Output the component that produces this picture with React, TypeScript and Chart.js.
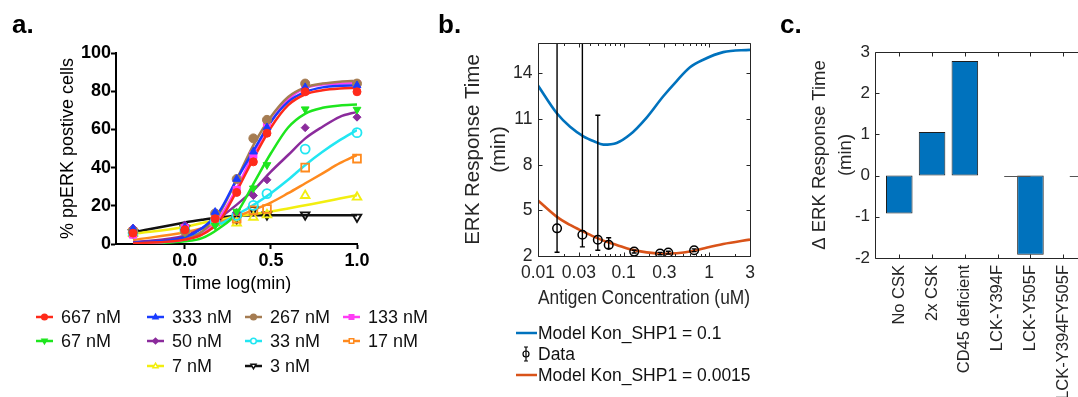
import React, { useEffect, useRef } from 'react';
import { Chart, registerables } from 'chart.js';

Chart.register(...registerables);

const FONT = "'Liberation Sans', Arial, Helvetica, sans-serif";
const AXIS_GRAY = '#262626';

// ---------------- Panel a data ----------------
const timeLog = [-0.301, 0, 0.176, 0.301, 0.398, 0.477, 0.699, 1.0];
const fitTimeLog = [-0.301, 0, 0.1, 0.2, 0.3, 0.4, 0.5, 0.6, 0.7, 0.8, 0.9, 1.0];
const concLabels = ['667 nM', '333 nM', '267 nM', '133 nM', '67 nM', '50 nM', '33 nM', '17 nM', '7 nM', '3 nM'];

const pts667 = [5.7, 7.5, 13.2, 27, 43, 58, 79.7, 79.7];
const pts333 = [8, 8.7, 16.7, 34, 48.3, 61, 82, 83];
const pts267 = [6.6, 6.6, 16, 34, 55.3, 65, 84, 84];
const pts133 = [4.9, 8.3, 13.6, 28.3, 46.6, 63.5, 83.5, 83.6];
const pts67 = [6.6, 6, 9.7, 17, 29.2, 41.4, 70.6, 70.4];
const pts50 = [8.3, 10, 13, 16.5, 25.4, 33.6, 60.9, 66.4];
const pts33 = [5.7, 7.5, 11.8, 15, 20.2, 26.4, 49.7, 58.3];
const pts17 = [6, 7.8, 11.8, 13.2, 17.6, 18.3, 40, 44.7];
const pts7 = [5.7, 7.5, 11.3, 11, 14, 15.3, 25.4, 24.5];
const pts3 = [6, 8, 11.3, 13.2, 18, 15.3, 15.3, 14.1];

const fit667 = [0.3, 2.3, 4.9, 11.8, 27.5, 45, 61, 72.7, 78.4, 80.5, 81.4, 81.7];
const fit333 = [0.5, 3.6, 8.3, 17, 33.6, 49, 64, 74.4, 79.6, 82, 82.8, 83];
const fit267 = [0.4, 2.6, 6.6, 16, 33.6, 52, 66.6, 77, 82, 84, 85, 85.4];
const fit133 = [0.3, 2.3, 5.7, 13.6, 29, 47.5, 64, 75.6, 81.7, 83.5, 84, 84.3];
const fit67 = [0.2, 1.4, 3.1, 8.3, 16, 31.8, 47.5, 61, 68.3, 71.3, 72.5, 73];
const fit50 = [0.9, 4.3, 8.3, 13.6, 20.5, 28.3, 37.9, 46.6, 55.3, 61.4, 66.6, 69.2];
const fit33 = [0.7, 3.3, 6.1, 10.1, 15.3, 20.5, 26.6, 33.6, 41.4, 48.3, 54.4, 59.7];
const fit17 = [2.1, 6.1, 8.3, 11.3, 14.4, 17.9, 21.7, 26.6, 31.8, 37, 42.3, 46.6];
const fit7 = [5.4, 8.9, 11, 12.7, 14.4, 15.7, 17, 18.6, 20.3, 22, 23.8, 25.6];
const fit3 = [6.1, 11.3, 12.7, 13.9, 14.6, 15, 15.1, 15.1, 15.1, 15.1, 15.1, 15.1];

const aXTicks = [0, 0.5, 1.0];
const aYTicks = [0, 20, 40, 60, 80, 100];

const seriesPoints = [pts667, pts333, pts267, pts133, pts67, pts50, pts33, pts17, pts7, pts3];
const seriesFits = [fit667, fit333, fit267, fit133, fit67, fit50, fit33, fit17, fit7, fit3];

const seriesStyle = [
  { color: '#ff2a1a', shape: 'circle', filled: true, rot: 0, r: 4 },
  { color: '#1a3cff', shape: 'triangle', filled: true, rot: 0, r: 4.5 },
  { color: '#a57c52', shape: 'circle', filled: true, rot: 0, r: 4.5 },
  { color: '#ff3df5', shape: 'rect', filled: true, rot: 0, r: 5 },
  { color: '#1ee61e', shape: 'triangle', filled: true, rot: 180, r: 4.5 },
  { color: '#8b2b9c', shape: 'rectRot', filled: true, rot: 0, r: 4 },
  { color: '#22e6f2', shape: 'circle', filled: false, rot: 0, r: 4.5 },
  { color: '#ff8a1e', shape: 'rect', filled: false, rot: 0, r: 5.5 },
  { color: '#f2ee10', shape: 'triangle', filled: false, rot: 0, r: 5 },
  { color: '#111111', shape: 'triangle', filled: false, rot: 180, r: 5 },
];

const legendACols = [36, 147, 245, 343];
const legendARows = [318, 342, 367];
const legendASlots = [[0, 0], [1, 0], [2, 0], [3, 0], [0, 1], [1, 1], [2, 1], [3, 1], [1, 2], [2, 2]];

// ---------------- Panel b data ----------------
const modelConc = [0.01, 0.0165, 0.0237, 0.0339, 0.045, 0.058, 0.083, 0.119, 0.186, 0.291, 0.417, 0.597, 0.853, 1.46, 3];
const modelKon01 = [13.2, 11.4, 10.5, 9.87, 9.54, 9.32, 9.43, 9.98, 11.1, 12.5, 13.5, 14.4, 14.9, 15.4, 15.55];
const modelKon00015 = [5.65, 4.59, 4.04, 3.6, 3.27, 3.01, 2.73, 2.44, 2.24, 2.15, 2.18, 2.29, 2.5, 2.79, 3.08];
const dataConc = [0.0167, 0.033, 0.05, 0.067, 0.133, 0.267, 0.333, 0.667];
const dataTime = [3.82, 3.4, 3.07, 2.73, 2.29, 2.16, 2.22, 2.38];
const errLow = [2.25, 2.6, 2.38, 2.5, 2.2, 2.08, 2.13, 2.29];
const errHigh = [20, 20, 11.25, 3.2, 2.38, 2.24, 2.31, 2.47];
const bXTicks = [0.01, 0.03, 0.1, 0.3, 1, 3];
const bXTickLabels = ['0.01', '0.03', '0.1', '0.3', '1', '3'];
const bXMinorTicks = [0.02, 0.04, 0.05, 0.06, 0.07, 0.08, 0.09, 0.2, 0.4, 0.5, 0.6, 0.7, 0.8, 0.9, 2];
const bYTicks = [2, 5, 8, 11, 14];
const bLegendLabels = ['Model Kon_SHP1 = 0.1', 'Data', 'Model Kon_SHP1 = 0.0015'];

// ---------------- Panel c data ----------------
const mutantCats = ['No CSK', '2x CSK', 'CD45 deficient', 'LCK-Y394F', 'LCK-Y505F', 'LCK-Y394FY505F'];
const deltaTime = [-0.92, 1.06, 2.78, 0, -1.92, 0];
const cYTicks = [-2, -1, 0, 1, 2, 3];

const BLUE = '#0072BD';
const ORANGE = '#D95319';

function drawMarker(ctx: any, shape: string, x: number, y: number, r: number, color: string, filled: boolean, rot: number) {
  ctx.save();
  ctx.translate(x, y);
  ctx.rotate((rot * Math.PI) / 180);
  ctx.beginPath();
  if (shape === 'circle') ctx.arc(0, 0, r, 0, Math.PI * 2);
  else if (shape === 'rect') ctx.rect(-r * 0.8, -r * 0.8, r * 1.6, r * 1.6);
  else if (shape === 'rectRot') {
    ctx.moveTo(0, -r); ctx.lineTo(r, 0); ctx.lineTo(0, r); ctx.lineTo(-r, 0); ctx.closePath();
  } else {
    ctx.moveTo(0, -r); ctx.lineTo(r * 0.9, r * 0.6); ctx.lineTo(-r * 0.9, r * 0.6); ctx.closePath();
  }
  ctx.fillStyle = filled ? color : '#ffffff';
  ctx.fill();
  ctx.strokeStyle = color;
  ctx.lineWidth = 1.5;
  ctx.stroke();
  ctx.restore();
}

function makeBoxPlugin(xMajor: number[], xMinor: number[], yMajor: number[]) {
  return {
    id: 'matlabBox',
    afterDraw(chart: any) {
      const { ctx, chartArea } = chart;
      const xs = chart.scales.x;
      const ys = chart.scales.y;
      const al = (v: number) => Math.round(v) + 0.5;
      const L = al(chartArea.left), R = al(chartArea.right), T = al(chartArea.top), B = al(chartArea.bottom);
      ctx.save();
      ctx.strokeStyle = AXIS_GRAY;
      ctx.lineWidth = 1;
      ctx.beginPath();
      ctx.moveTo(L, T); ctx.lineTo(R, T); ctx.lineTo(R, B); ctx.lineTo(L, B); ctx.closePath();
      const xt = (v: number, len: number) => {
        const p = al(xs.getPixelForValue(v));
        ctx.moveTo(p, B); ctx.lineTo(p, B - len);
        ctx.moveTo(p, T); ctx.lineTo(p, T + len);
      };
      xMajor.forEach((v) => xt(v, 4));
      xMinor.forEach((v) => xt(v, 2.5));
      yMajor.forEach((v) => {
        const p = al(ys.getPixelForValue(v));
        ctx.moveTo(L, p); ctx.lineTo(L + 4, p);
        ctx.moveTo(R, p); ctx.lineTo(R - 4, p);
      });
      ctx.stroke();
      ctx.restore();
    },
  };
}

function configA(): any {
  const datasets: any[] = [];
  seriesPoints.forEach((pts, i) => {
    const st = seriesStyle[i];
    datasets.push({
      type: 'line',
      label: concLabels[i],
      data: timeLog.map((x, j) => ({ x, y: pts[j] })),
      showLine: false,
      pointStyle: st.shape,
      pointRotation: st.rot,
      pointRadius: st.r,
      pointBackgroundColor: st.filled ? st.color : 'rgba(255,255,255,0)',
      pointBorderColor: st.color,
      pointBorderWidth: st.filled ? 1 : 1.8,
      clip: false,
      order: 0,
    });
  });
  seriesFits.forEach((f, i) => {
    const st = seriesStyle[i];
    datasets.push({
      type: 'line',
      label: concLabels[i] + ' fit',
      data: fitTimeLog.map((x, j) => ({ x, y: f[j] })),
      borderColor: st.color,
      borderWidth: 2.5,
      pointRadius: 0,
      cubicInterpolationMode: 'monotone',
      fill: false,
      order: 1,
    });
  });
  const legendPlugin = {
    id: 'legendA',
    afterDraw(chart: any) {
      const ctx = chart.ctx;
      ctx.save();
      concLabels.forEach((lab, i) => {
        const [c, r] = legendASlots[i];
        const x0 = legendACols[c];
        const y = legendARows[r];
        const st = seriesStyle[i];
        ctx.strokeStyle = st.color;
        ctx.lineWidth = 2.5;
        ctx.beginPath();
        ctx.moveTo(x0, y - 1);
        ctx.lineTo(x0 + 17, y - 1);
        ctx.stroke();
        drawMarker(ctx, st.shape, x0 + 8.5, y - 1, 2.8, st.color, st.filled, st.rot);
        ctx.fillStyle = '#111';
        ctx.font = `18px ${FONT}`;
        ctx.textBaseline = 'middle';
        ctx.textAlign = 'left';
        ctx.fillText(lab, x0 + 25, y);
      });
      ctx.restore();
    },
  };
  return {
    type: 'line',
    data: { datasets },
    plugins: [legendPlugin],
    options: {
      responsive: false,
      animation: false,
      devicePixelRatio: 1,
      layout: { padding: { left: 0, top: 53, right: 83, bottom: 0 } },
      plugins: { legend: { display: false }, tooltip: { enabled: false } },
      scales: {
        x: {
          type: 'linear', min: -0.4, max: 1.0, bounds: 'data',
          afterBuildTicks: (s: any) => { s.ticks = aXTicks.map((v) => ({ value: v })); },
          afterFit: (s: any) => { s.height = 153; },
          grid: { display: true, drawOnChartArea: false, drawTicks: true, tickLength: 5, tickWidth: 2, tickColor: '#000' },
          border: { display: true, color: '#000', width: 2 },
          ticks: { color: '#000', font: { family: FONT, size: 18, weight: 'bold' }, padding: 1, maxRotation: 0, autoSkip: false, callback: (v: any) => Number(v).toFixed(1) },
          title: { display: true, text: 'Time log(min)', color: '#000', font: { family: FONT, size: 18 }, padding: { top: 0, bottom: 102 } },
        },
        y: {
          type: 'linear', min: 0, max: 100, bounds: 'data',
          afterBuildTicks: (s: any) => { s.ticks = aYTicks.map((v) => ({ value: v })); },
          afterFit: (s: any) => { s.width = 116; },
          grid: { display: true, drawOnChartArea: false, drawTicks: true, tickLength: 5, tickWidth: 2, tickColor: '#000' },
          border: { display: true, color: '#000', width: 2 },
          ticks: { color: '#000', font: { family: FONT, size: 18, weight: 'bold' }, padding: 0, autoSkip: false, callback: (v: any) => String(v) },
          title: { display: true, text: '% ppERK postive cells', color: '#000', font: { family: FONT, size: 18 }, padding: { top: 57.2, bottom: 0 } },
        },
      },
    },
  };
}

function configB(): any {
  const errorBarPlugin = {
    id: 'errorBars',
    afterDatasetsDraw(chart: any) {
      const { ctx, chartArea } = chart;
      const { left, right, top, bottom } = chartArea;
      const xs = chart.scales.x, ys = chart.scales.y;
      ctx.save();
      ctx.beginPath();
      ctx.rect(left, top, right - left, bottom - top);
      ctx.clip();
      ctx.strokeStyle = '#000';
      ctx.lineWidth = 1.4;
      dataConc.forEach((c, i) => {
        const px = xs.getPixelForValue(c);
        const yl = ys.getPixelForValue(errLow[i]);
        const yh = ys.getPixelForValue(errHigh[i]);
        ctx.beginPath();
        ctx.moveTo(px, yl); ctx.lineTo(px, yh);
        ctx.moveTo(px - 2.5, yl); ctx.lineTo(px + 2.5, yl);
        ctx.moveTo(px - 2.5, yh); ctx.lineTo(px + 2.5, yh);
        ctx.stroke();
      });
      ctx.restore();
    },
  };
  const legendPlugin = {
    id: 'legendB',
    afterDraw(chart: any) {
      const ctx = chart.ctx;
      const rows = [333, 354, 375];
      ctx.save();
      ctx.font = `17.5px ${FONT}`;
      ctx.textBaseline = 'middle';
      ctx.textAlign = 'left';
      bLegendLabels.forEach((lab, i) => {
        const y = rows[i];
        if (i === 1) {
          ctx.strokeStyle = '#000';
          ctx.lineWidth = 1.2;
          ctx.beginPath();
          ctx.moveTo(96, y - 7); ctx.lineTo(96, y + 7);
          ctx.moveTo(94, y - 7); ctx.lineTo(98, y - 7);
          ctx.moveTo(94, y + 7); ctx.lineTo(98, y + 7);
          ctx.stroke();
          ctx.beginPath();
          ctx.arc(96, y, 3, 0, Math.PI * 2);
          ctx.stroke();
        } else {
          ctx.strokeStyle = i === 0 ? BLUE : ORANGE;
          ctx.lineWidth = 2.5;
          ctx.beginPath();
          ctx.moveTo(86, y); ctx.lineTo(107, y);
          ctx.stroke();
        }
        ctx.fillStyle = '#111';
        ctx.fillText(lab, 108, y + 1);
      });
      ctx.restore();
    },
  };
  return {
    type: 'line',
    data: {
      datasets: [
        {
          label: 'Data',
          data: dataConc.map((x, i) => ({ x, y: dataTime[i] })),
          showLine: false,
          pointStyle: 'circle',
          pointRadius: 4.3,
          pointBackgroundColor: 'rgba(0,0,0,0)',
          pointBorderColor: '#000',
          pointBorderWidth: 1.5,
          order: 0,
        },
        {
          label: 'Model Kon_SHP1 = 0.1',
          data: modelConc.map((x, i) => ({ x, y: modelKon01[i] })),
          borderColor: BLUE, borderWidth: 2.6, pointRadius: 0, cubicInterpolationMode: 'monotone', fill: false, order: 1,
        },
        {
          label: 'Model Kon_SHP1 = 0.0015',
          data: modelConc.map((x, i) => ({ x, y: modelKon00015[i] })),
          borderColor: ORANGE, borderWidth: 2.6, pointRadius: 0, cubicInterpolationMode: 'monotone', fill: false, order: 1,
        },
      ],
    },
    plugins: [errorBarPlugin, makeBoxPlugin(bXTicks, bXMinorTicks, bYTicks), legendPlugin],
    options: {
      responsive: false,
      animation: false,
      devicePixelRatio: 1,
      layout: { padding: { left: 0, top: 43, right: 20, bottom: 0 } },
      plugins: { legend: { display: false }, tooltip: { enabled: false } },
      scales: {
        x: {
          type: 'logarithmic', min: 0.01, max: 3, bounds: 'data',
          afterBuildTicks: (s: any) => { s.ticks = bXTicks.map((v) => ({ value: v })); },
          afterFit: (s: any) => { s.height = 141; },
          grid: { display: false, drawTicks: false },
          border: { display: false },
          ticks: { color: AXIS_GRAY, font: { family: FONT, size: 17.5 }, padding: 7, maxRotation: 0, minRotation: 0, autoSkip: false, callback: (v: any, i: number) => bXTickLabels[i] },
          title: { display: true, text: 'Antigen Concentration (uM)', color: AXIS_GRAY, font: { family: FONT, size: 20.5 }, padding: { top: 0, bottom: 86.2 } },
        },
        y: {
          type: 'linear', min: 2, max: 16, bounds: 'data',
          afterBuildTicks: (s: any) => { s.ticks = bYTicks.map((v) => ({ value: v })); },
          afterFit: (s: any) => { s.width = 108; },
          grid: { display: false, drawTicks: false },
          border: { display: false },
          ticks: { color: AXIS_GRAY, font: { family: FONT, size: 17.5 }, padding: 5.5, autoSkip: false, callback: (v: any) => String(v) },
          title: { display: true, text: ['ERK Response Time', '(min)'], color: AXIS_GRAY, font: { family: FONT, size: 20.5, lineHeight: '26px' }, padding: { top: 30.5, bottom: 0 } },
        },
      },
    },
  };
}

function configC(): any {
  const zeroBarPlugin = {
    id: 'zeroBars',
    afterDatasetsDraw(chart: any) {
      const { ctx, chartArea } = chart;
      const xs = chart.scales.x, ys = chart.scales.y;
      ctx.save();
      ctx.beginPath();
      ctx.rect(chartArea.left, chartArea.top, chartArea.right - chartArea.left, chartArea.bottom - chartArea.top);
      ctx.clip();
      ctx.strokeStyle = '#555';
      ctx.lineWidth = 1;
      deltaTime.forEach((v, i) => {
        if (v !== 0) return;
        const y0 = Math.round(ys.getPixelForValue(0)) + 0.5;
        ctx.beginPath();
        ctx.moveTo(xs.getPixelForValue(i + 1.2), y0);
        ctx.lineTo(xs.getPixelForValue(i + 2.0), y0);
        ctx.stroke();
      });
      ctx.restore();
    },
  };
  return {
    type: 'bar',
    data: {
      datasets: [
        {
          label: 'Δ ERK Response Time',
          data: mutantCats.map((c, i) => ({ x: i + 1, y: deltaTime[i] })),
          backgroundColor: BLUE,
          borderColor: '#1e1e1e',
          borderWidth: 1,
          borderSkipped: false,
          barPercentage: 1,
          categoryPercentage: 0.81,
        },
      ],
    },
    plugins: [zeroBarPlugin, makeBoxPlugin([1, 2, 3, 4, 5, 6], [], cYTicks)],
    options: {
      responsive: false,
      animation: false,
      devicePixelRatio: 1,
      layout: { padding: { left: 0, top: 52, right: 22.5, bottom: 0 } },
      plugins: { legend: { display: false }, tooltip: { enabled: false } },
      scales: {
        x: {
          type: 'linear', min: 0.26, max: 6.74, bounds: 'data', offset: false,
          afterBuildTicks: (s: any) => { s.ticks = mutantCats.map((c, i) => ({ value: i + 1 })); },
          afterFit: (s: any) => { s.height = 139; },
          grid: { display: false, drawTicks: false, offset: false },
          border: { display: false },
          ticks: { color: AXIS_GRAY, font: { family: FONT, size: 16.5 }, padding: 7, minRotation: 90, maxRotation: 90, autoSkip: false, callback: (v: any, i: number) => mutantCats[i] },
        },
        y: {
          type: 'linear', min: -2, max: 3, bounds: 'data',
          afterBuildTicks: (s: any) => { s.ticks = cYTicks.map((v) => ({ value: v })); },
          afterFit: (s: any) => { s.width = 95; },
          grid: { display: false, drawTicks: false },
          border: { display: false },
          ticks: { color: AXIS_GRAY, font: { family: FONT, size: 17 }, padding: 5, autoSkip: false, callback: (v: any) => String(v) },
          title: { display: true, text: ['Δ ERK Response Time', '(min)'], color: AXIS_GRAY, font: { family: FONT, size: 18.5, lineHeight: '26px' }, padding: { top: 27, bottom: 0 } },
        },
      },
    },
  };
}

export default function App() {
  const refA = useRef<HTMLCanvasElement>(null);
  const refB = useRef<HTMLCanvasElement>(null);
  const refC = useRef<HTMLCanvasElement>(null);

  useEffect(() => {
    const charts = [
      new Chart(refA.current as HTMLCanvasElement, configA()),
      new Chart(refB.current as HTMLCanvasElement, configB()),
      new Chart(refC.current as HTMLCanvasElement, configC()),
    ];
    return () => charts.forEach((c) => c.destroy());
  }, []);

  const letter = (txt: string, left: number) => (
    <div style={{ position: 'absolute', left, top: 11, fontSize: 26, fontWeight: 'bold', lineHeight: '26px', fontFamily: FONT, color: '#000' }}>{txt}</div>
  );

  return (
    <div style={{ position: 'fixed', left: 0, top: 0, width: 1078, height: 397, overflow: 'hidden', background: '#fff' }}>
      <canvas ref={refA} width={440} height={397} style={{ position: 'absolute', left: 0, top: 0, width: 440, height: 397 }} />
      <canvas ref={refB} width={340} height={397} style={{ position: 'absolute', left: 430, top: 0, width: 340, height: 397 }} />
      <canvas ref={refC} width={330} height={397} style={{ position: 'absolute', left: 780, top: 0, width: 330, height: 397 }} />
      {letter('a.', 12)}
      {letter('b.', 438)}
      {letter('c.', 780)}
    </div>
  );
}
